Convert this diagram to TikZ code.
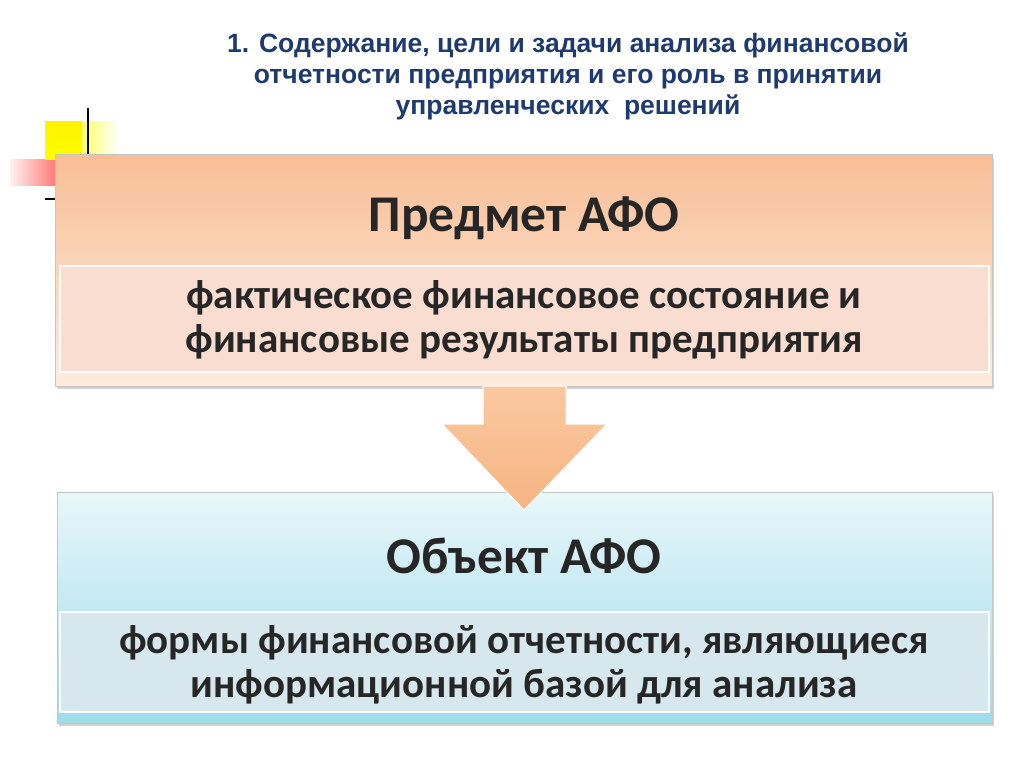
\documentclass[tikz,border=0pt]{standalone}
\usepackage{fontspec}
\setmainfont{Carlito}
\newfontfamily\titlefont{Liberation Sans}
\usetikzlibrary{shadows}
\definecolor{titleblue}{HTML}{1F3A6E}
\begin{document}
\begin{tikzpicture}[x=1pt,y=-1pt,
  outerbox/.style={draw=gray!45,line width=1pt,drop shadow={shadow xshift=2pt,shadow yshift=-3pt,opacity=0.35}},
  band/.style={draw=white,line width=1.5pt},
  head/.style={font=\bfseries\fontsize{51.5}{54}\selectfont,text=black!85},
  body/.style={font=\bfseries\fontsize{41}{44}\selectfont,text=black!85,align=center}]
\useasboundingbox (0,0) rectangle (1024,767);
\fill[white] (0,0) rectangle (1024,767);
% decoration
\shade[left color=red!5, right color=red!60] (10,160) rectangle (62,186);
\shade[top color=yellow!90!orange, bottom color=yellow] (45,122) rectangle (82,160);
\shade[left color=yellow!60, right color=white] (82,122) rectangle (118,160);
\draw[line width=1.3pt] (88,108) -- (88,205);
\draw[line width=1.3pt] (45,199) -- (56,199);
% title
\node[font=\titlefont\bfseries\fontsize{26.5}{31}\selectfont,text=titleblue,align=center] (title) at (568,76)
 {1. Содержание, цели и задачи анализа финансовой\\отчетности предприятия и его роль в принятии\\управленческих\ \ решений};
% box 1
\shade[outerbox,top color={rgb,255:red,248;green,190;blue,150}, bottom color={rgb,255:red,253;green,236;blue,222}] (55,155) rectangle (992,386);
\fill[band,fill={rgb,255:red,249;green,221;blue,208}] (60,266) rectangle (989,372);
\node[head] (h1) at (524,218) {Предмет АФО};
\node[body] (b1) at (524,320) {фактическое финансовое состояние и\\финансовые результаты предприятия};
% box 2
\shade[outerbox,top color={rgb,255:red,232;green,247;blue,250}, bottom color={rgb,255:red,160;green,218;blue,235}] (57,492) rectangle (992,723);
\fill[band,fill={rgb,255:red,214;green,232;blue,238}] (60,612) rectangle (989,712);
\node[head] (h2) at (524,556) {Объект АФО};
\node[body] (b2) at (524,665) {формы финансовой отчетности, являющиеся\\информационной базой для анализа};
% arrow
\shade[top color={rgb,255:red,250;green,200;blue,160}, bottom color={rgb,255:red,246;green,180;blue,130},draw=white,line width=1pt]
 (483,386) -- (566,386) -- (566,424) -- (607,424) -- (524,510) -- (442,424) -- (483,424) -- cycle;
\end{tikzpicture}
\end{document}
